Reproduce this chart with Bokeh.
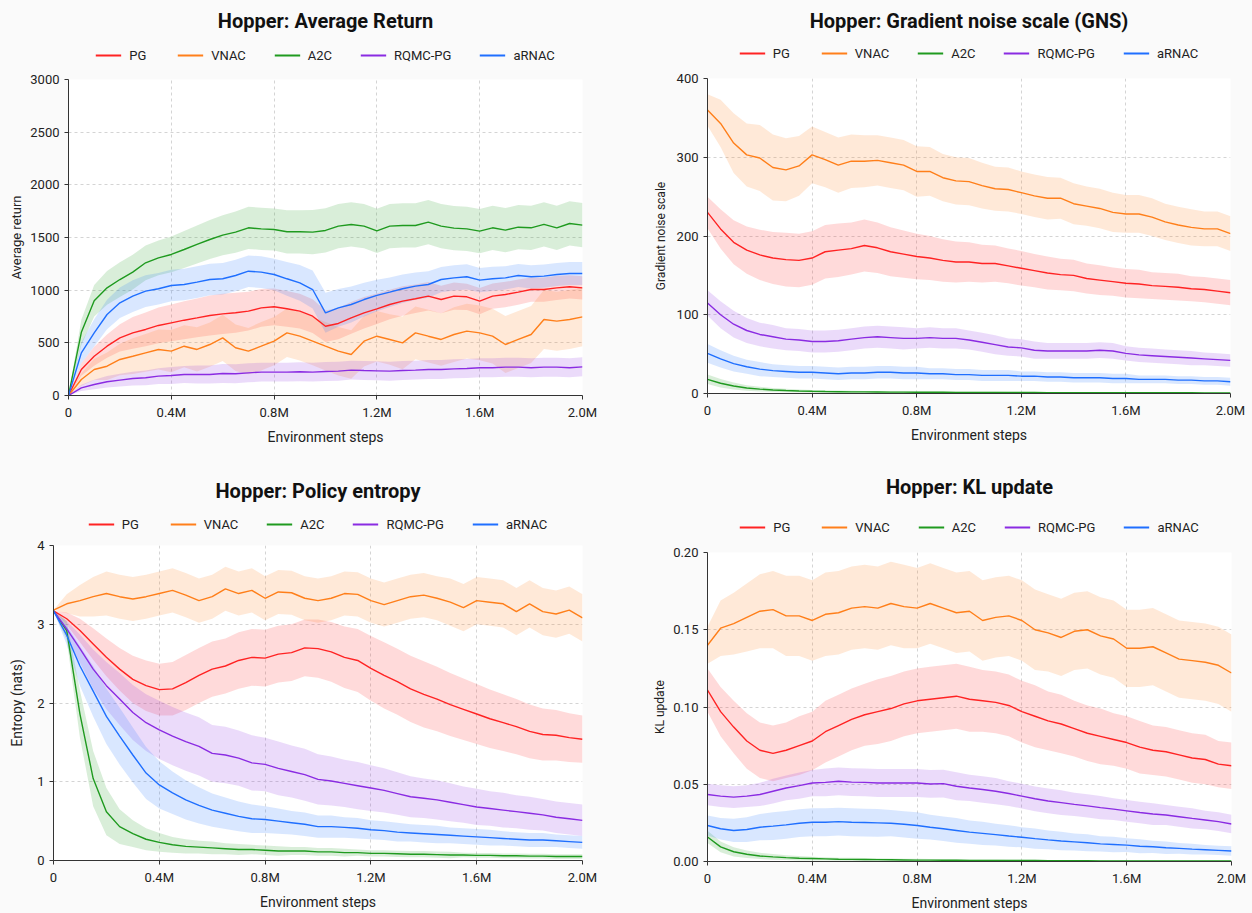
from bokeh.plotting import figure
from bokeh.layouts import column, row
from bokeh.models import (Range1d, FixedTicker, CustomJSTickFormatter, NumeralTickFormatter,
                          Legend, LegendItem, ColumnDataSource)
from bokeh.embed import file_html
from bokeh.resources import INLINE

FONT = "Roboto"

STEPS_M = [0.00, 0.05, 0.10, 0.15, 0.20, 0.25, 0.30, 0.35, 0.40, 0.45,
           0.50, 0.55, 0.60, 0.65, 0.70, 0.75, 0.80, 0.85, 0.90, 0.95,
           1.00, 1.05, 1.10, 1.15, 1.20, 1.25, 1.30, 1.35, 1.40, 1.45,
           1.50, 1.55, 1.60, 1.65, 1.70, 1.75, 1.80, 1.85, 1.90, 1.95, 2.00]
X_TICKS_M = [0, 0.4, 0.8, 1.2, 1.6, 2.0]

METHODS = ["PG", "VNAC", "A2C", "RQMC-PG", "aRNAC"]
COLORS = ["#ff2323", "#ff7f1a", "#1f9a1f", "#8a2be2", "#1f6fff"]

# ---------------- Average return ----------------
RET_PG = [0, 247, 373, 468, 547, 595, 627, 665, 690, 715, 737, 760, 775, 785, 801, 832, 842, 823, 801, 753,
          658, 684, 737, 785, 823, 864, 896, 918, 943, 911, 943, 937, 896, 943, 959, 981, 1006, 1006, 1022, 1032, 1022]
RET_PG_SD = [0, 60, 90, 110, 130, 150, 160, 170, 175, 180, 185, 190, 190, 190, 185, 180, 175, 170, 165, 160,
             150, 150, 150, 150, 145, 140, 140, 135, 135, 130, 130, 125, 125, 120, 120, 120, 115, 115, 115, 110, 110]
RET_VNAC = [0, 152, 247, 278, 342, 373, 405, 437, 421, 468, 437, 484, 547, 453, 421, 468, 516, 595, 563, 516,
            468, 421, 389, 516, 563, 532, 500, 595, 563, 532, 579, 611, 595, 563, 484, 532, 579, 722, 706, 722, 747]
RET_VNAC_SD = [0, 60, 100, 130, 150, 170, 180, 190, 200, 200, 210, 210, 220, 220, 220, 230, 230, 230, 230, 230,
               230, 230, 230, 240, 240, 240, 250, 250, 250, 250, 260, 260, 260, 260, 270, 270, 270, 280, 280, 280, 280]
RET_A2C = [0, 600, 900, 1022, 1101, 1171, 1260, 1307, 1339, 1386, 1434, 1481, 1522, 1551, 1592, 1582, 1576, 1554, 1554, 1551,
           1567, 1608, 1624, 1608, 1563, 1608, 1614, 1614, 1646, 1608, 1589, 1582, 1560, 1592, 1570, 1598, 1592, 1624, 1592, 1633, 1617]
RET_A2C_SD = [0, 120, 150, 160, 165, 165, 165, 165, 170, 175, 180, 185, 190, 195, 200, 200, 200, 205, 205, 210,
              210, 210, 210, 210, 210, 210, 210, 210, 210, 210, 210, 210, 210, 210, 210, 210, 210, 210, 210, 210, 210]
RET_RQMC = [0, 73, 104, 130, 146, 161, 168, 184, 190, 199, 199, 199, 209, 206, 215, 222, 222, 222, 225, 222,
            228, 231, 241, 237, 234, 231, 237, 241, 247, 247, 253, 256, 263, 263, 269, 269, 263, 269, 269, 263, 272]
RET_RQMC_SD = [0, 30, 45, 55, 60, 65, 70, 75, 80, 80, 85, 85, 90, 90, 90, 90, 90, 90, 90, 90,
               90, 90, 90, 90, 90, 90, 90, 90, 90, 90, 90, 90, 90, 90, 90, 90, 90, 90, 90, 90, 90]
RET_ARNAC = [0, 405, 595, 769, 880, 943, 991, 1013, 1044, 1054, 1076, 1101, 1108, 1139, 1180, 1171, 1149, 1108, 1070, 1006,
             785, 832, 864, 911, 950, 981, 1013, 1038, 1054, 1101, 1117, 1127, 1095, 1108, 1117, 1139, 1127, 1133, 1149, 1158, 1158]
RET_ARNAC_SD = [0, 100, 130, 140, 145, 150, 150, 150, 150, 150, 150, 150, 150, 150, 150, 150, 150, 160, 170, 180,
                190, 180, 170, 160, 150, 140, 135, 130, 125, 120, 120, 120, 115, 115, 110, 110, 110, 110, 110, 110, 110]

# ---------------- Gradient noise scale ----------------
GNS_PG = [230, 209, 192, 182, 176, 172, 170, 169, 172, 180, 182, 184, 188, 185, 180, 177, 174, 172, 169, 167,
          167, 165, 165, 162, 159, 156, 153, 151, 150, 146, 144, 142, 140, 139, 137, 136, 135, 133, 132, 130, 128]
GNS_PG_SD = [20, 25, 28, 30, 32, 33, 34, 34, 34, 34, 34, 33, 33, 32, 31, 30, 29, 28, 27, 26,
             25, 24, 23, 22, 22, 21, 21, 20, 20, 19, 19, 18, 18, 18, 17, 17, 17, 16, 16, 16, 16]
GNS_VNAC = [360, 343, 318, 303, 299, 287, 284, 289, 303, 297, 290, 295, 295, 296, 293, 290, 282, 282, 274, 270,
            269, 264, 260, 259, 255, 251, 248, 248, 241, 238, 235, 230, 228, 228, 224, 218, 214, 211, 209, 209, 203]
GNS_VNAC_SD = [20, 30, 38, 40, 42, 42, 40, 38, 36, 35, 35, 34, 33, 32, 32, 32, 32, 31, 30, 30,
               30, 29, 28, 28, 27, 27, 27, 26, 26, 25, 25, 25, 24, 24, 24, 23, 23, 23, 22, 22, 22]
GNS_A2C = [18, 13, 9.5, 7, 5.5, 4.5, 3.8, 3.2, 2.8, 2.5, 2.3, 2.1, 2.0, 1.9, 1.8, 1.7, 1.6, 1.5, 1.5, 1.4,
           1.4, 1.3, 1.3, 1.2, 1.2, 1.2, 1.1, 1.1, 1.1, 1.0, 1.0, 1.0, 1.0, 0.9, 0.9, 0.9, 0.9, 0.9, 0.8, 0.8, 0.8]
GNS_A2C_SD = [6, 5.5, 4.5, 3.5, 3, 2.5, 2.2, 2, 1.8, 1.6, 1.5, 1.4, 1.3, 1.2, 1.1, 1.1, 1, 1, 1, 0.9,
              0.9, 0.9, 0.8, 0.8, 0.8, 0.8, 0.7, 0.7, 0.7, 0.7, 0.7, 0.6, 0.6, 0.6, 0.6, 0.6, 0.6, 0.5, 0.5, 0.5, 0.5]
GNS_RQMC = [115, 100, 88, 80, 75, 72, 69, 68, 66, 66, 67, 69, 71, 72, 71, 70, 70, 71, 70, 70,
            68, 65, 62, 59, 58, 55, 54, 54, 54, 54, 55, 54, 51, 49, 48, 47, 46, 45, 44, 43, 42]
GNS_RQMC_SD = [16, 17, 17, 16, 15, 15, 14, 14, 14, 14, 14, 14, 14, 14, 14, 14, 13, 13, 13, 13,
               12, 12, 12, 11, 11, 11, 10, 10, 10, 10, 10, 10, 9, 9, 9, 9, 9, 9, 8, 8, 8]
GNS_ARNAC = [51, 44, 38, 34, 31, 29, 28, 27, 27, 26, 25, 26, 26, 27, 27, 26, 26, 25, 25, 24,
             24, 23, 23, 23, 22, 22, 21, 21, 20, 20, 20, 19, 19, 18, 18, 18, 17, 17, 16, 16, 15]
GNS_ARNAC_SD = [12, 11, 10, 9, 9, 8, 8, 8, 8, 8, 8, 8, 8, 8, 8, 8, 8, 7, 7, 7,
                7, 7, 7, 7, 6, 6, 6, 6, 6, 6, 6, 6, 6, 5, 5, 5, 5, 5, 5, 5, 5]

# ---------------- Policy entropy ----------------
ENT_PG = [3.17, 3.07, 2.92, 2.75, 2.58, 2.43, 2.30, 2.22, 2.17, 2.18, 2.26, 2.35, 2.43, 2.47, 2.54, 2.58, 2.57, 2.62, 2.64, 2.70,
          2.69, 2.65, 2.58, 2.54, 2.44, 2.35, 2.27, 2.18, 2.11, 2.05, 1.98, 1.92, 1.86, 1.80, 1.75, 1.70, 1.64, 1.60, 1.59, 1.56, 1.54]
ENT_PG_SD = [0, 0.08, 0.15, 0.2, 0.24, 0.27, 0.3, 0.32, 0.33, 0.34, 0.35, 0.35, 0.35, 0.35, 0.36, 0.36, 0.36, 0.36, 0.36, 0.36,
             0.37, 0.38, 0.39, 0.40, 0.41, 0.42, 0.42, 0.42, 0.42, 0.41, 0.40, 0.39, 0.38, 0.37, 0.36, 0.35, 0.34, 0.33, 0.32, 0.31, 0.30]
ENT_VNAC = [3.18, 3.26, 3.30, 3.35, 3.39, 3.35, 3.32, 3.35, 3.39, 3.43, 3.37, 3.30, 3.35, 3.45, 3.39, 3.43, 3.33, 3.41, 3.40, 3.33,
            3.30, 3.33, 3.39, 3.38, 3.30, 3.25, 3.30, 3.35, 3.37, 3.33, 3.28, 3.21, 3.30, 3.28, 3.26, 3.16, 3.26, 3.16, 3.13, 3.18, 3.08]
ENT_VNAC_SD = [0, 0.12, 0.2, 0.25, 0.28, 0.28, 0.28, 0.28, 0.28, 0.28, 0.28, 0.28, 0.28, 0.28, 0.28, 0.28, 0.28, 0.28, 0.28, 0.28,
               0.28, 0.28, 0.28, 0.28, 0.28, 0.28, 0.28, 0.28, 0.28, 0.28, 0.30, 0.30, 0.30, 0.30, 0.30, 0.30, 0.30, 0.30, 0.30, 0.30, 0.30]
ENT_A2C = [3.17, 2.92, 1.86, 1.04, 0.62, 0.43, 0.34, 0.27, 0.23, 0.20, 0.18, 0.17, 0.16, 0.15, 0.14, 0.14, 0.13, 0.12, 0.12, 0.12,
           0.11, 0.11, 0.10, 0.10, 0.09, 0.09, 0.085, 0.08, 0.08, 0.075, 0.07, 0.07, 0.065, 0.065, 0.06, 0.06, 0.055, 0.055, 0.05, 0.05, 0.05]
ENT_A2C_SD = [0, 0.12, 0.3, 0.35, 0.3, 0.22, 0.17, 0.14, 0.12, 0.1, 0.09, 0.08, 0.08, 0.07, 0.07, 0.06, 0.06, 0.06, 0.05, 0.05,
              0.05, 0.05, 0.05, 0.04, 0.04, 0.04, 0.04, 0.04, 0.04, 0.04, 0.04, 0.03, 0.03, 0.03, 0.03, 0.03, 0.03, 0.03, 0.03, 0.03, 0.03]
ENT_RQMC = [3.17, 2.94, 2.69, 2.43, 2.22, 2.05, 1.88, 1.75, 1.66, 1.58, 1.51, 1.45, 1.36, 1.34, 1.30, 1.24, 1.22, 1.17, 1.13, 1.09,
            1.03, 1.01, 0.98, 0.95, 0.92, 0.89, 0.85, 0.81, 0.79, 0.77, 0.74, 0.71, 0.68, 0.66, 0.64, 0.62, 0.60, 0.58, 0.55, 0.53, 0.51]
ENT_RQMC_SD = [0, 0.1, 0.18, 0.25, 0.3, 0.33, 0.35, 0.36, 0.37, 0.37, 0.37, 0.37, 0.36, 0.36, 0.35, 0.35, 0.34, 0.34, 0.33, 0.33,
               0.32, 0.31, 0.30, 0.30, 0.29, 0.28, 0.27, 0.26, 0.25, 0.25, 0.24, 0.23, 0.23, 0.22, 0.22, 0.21, 0.21, 0.2, 0.2, 0.2, 0.2]
ENT_ARNAC = [3.17, 2.86, 2.47, 2.15, 1.83, 1.58, 1.34, 1.11, 0.96, 0.86, 0.77, 0.70, 0.64, 0.60, 0.56, 0.53, 0.52, 0.50, 0.48, 0.46,
             0.43, 0.43, 0.42, 0.41, 0.39, 0.38, 0.36, 0.35, 0.34, 0.33, 0.32, 0.31, 0.30, 0.29, 0.28, 0.27, 0.26, 0.26, 0.25, 0.24, 0.23]
ENT_ARNAC_SD = [0, 0.12, 0.25, 0.32, 0.35, 0.36, 0.35, 0.33, 0.3, 0.27, 0.25, 0.23, 0.21, 0.2, 0.19, 0.18, 0.17, 0.16, 0.15, 0.15,
                0.14, 0.14, 0.13, 0.13, 0.12, 0.12, 0.12, 0.11, 0.11, 0.11, 0.1, 0.1, 0.1, 0.1, 0.09, 0.09, 0.09, 0.09, 0.08, 0.08, 0.08]

# ---------------- KL update ----------------
KL_PG = [0.111, 0.097, 0.087, 0.078, 0.072, 0.070, 0.072, 0.075, 0.078, 0.084, 0.088, 0.092, 0.095, 0.097, 0.099, 0.102, 0.104, 0.105, 0.106, 0.107,
         0.105, 0.104, 0.103, 0.101, 0.097, 0.094, 0.091, 0.089, 0.086, 0.083, 0.081, 0.079, 0.077, 0.074, 0.072, 0.071, 0.069, 0.067, 0.066, 0.063, 0.062]
KL_PG_SD = [0.014, 0.016, 0.017, 0.018, 0.018, 0.018, 0.018, 0.019, 0.019, 0.02, 0.02, 0.02, 0.02, 0.021, 0.021, 0.021, 0.021, 0.021, 0.021, 0.021,
            0.021, 0.02, 0.02, 0.02, 0.02, 0.02, 0.019, 0.019, 0.018, 0.018, 0.018, 0.017, 0.017, 0.017, 0.016, 0.016, 0.016, 0.016, 0.016, 0.015, 0.015]
KL_VNAC = [0.140, 0.151, 0.154, 0.158, 0.162, 0.163, 0.159, 0.159, 0.156, 0.160, 0.161, 0.164, 0.165, 0.164, 0.167, 0.165, 0.164, 0.167, 0.164, 0.161,
           0.162, 0.156, 0.158, 0.159, 0.156, 0.150, 0.148, 0.145, 0.149, 0.150, 0.146, 0.144, 0.138, 0.138, 0.139, 0.135, 0.131, 0.130, 0.129, 0.127, 0.122]
KL_VNAC_SD = [0.012, 0.018, 0.02, 0.022, 0.024, 0.025, 0.026, 0.026, 0.026, 0.027, 0.027, 0.027, 0.027, 0.027, 0.027, 0.027, 0.026, 0.026, 0.026, 0.026,
              0.026, 0.026, 0.026, 0.026, 0.026, 0.026, 0.025, 0.025, 0.025, 0.025, 0.025, 0.025, 0.025, 0.025, 0.025, 0.025, 0.025, 0.025, 0.025, 0.025, 0.025]
KL_A2C = [0.0159, 0.0095, 0.0063, 0.0047, 0.0036, 0.0030, 0.0025, 0.0021, 0.0019, 0.0017, 0.0015, 0.0014, 0.0013, 0.0012, 0.0011, 0.0010, 0.0009, 0.0009, 0.0008, 0.0008,
          0.0007, 0.0007, 0.0007, 0.0006, 0.0006, 0.0006, 0.0005, 0.0005, 0.0005, 0.0005, 0.0004, 0.0004, 0.0004, 0.0004, 0.0004, 0.0003, 0.0003, 0.0003, 0.0003, 0.0003, 0.0003]
KL_A2C_SD = [0.004, 0.0035, 0.003, 0.0025, 0.002, 0.0018, 0.0016, 0.0014, 0.0012, 0.0011, 0.001, 0.001, 0.0009, 0.0009, 0.0008, 0.0008, 0.0008, 0.0007, 0.0007, 0.0007,
             0.0006, 0.0006, 0.0006, 0.0006, 0.0005, 0.0005, 0.0005, 0.0005, 0.0005, 0.0005, 0.0005, 0.0004, 0.0004, 0.0004, 0.0004, 0.0004, 0.0004, 0.0004, 0.0004, 0.0004, 0.0004]
KL_RQMC = [0.0434, 0.0423, 0.0417, 0.0423, 0.0434, 0.0455, 0.0476, 0.0491, 0.0508, 0.0512, 0.0519, 0.0514, 0.0512, 0.0508, 0.0508, 0.0508, 0.0508, 0.0502, 0.0504, 0.0487,
           0.0476, 0.0466, 0.0455, 0.0440, 0.0423, 0.0406, 0.0392, 0.0381, 0.0370, 0.0360, 0.0349, 0.0339, 0.0328, 0.0317, 0.0307, 0.0301, 0.0290, 0.0279, 0.0269, 0.0258, 0.0243]
KL_RQMC_SD = [0.007, 0.007, 0.007, 0.007, 0.0075, 0.008, 0.008, 0.0085, 0.0085, 0.009, 0.009, 0.009, 0.009, 0.009, 0.009, 0.009, 0.009, 0.009, 0.009, 0.009,
              0.0085, 0.0085, 0.0085, 0.008, 0.008, 0.008, 0.008, 0.008, 0.0075, 0.0075, 0.0075, 0.007, 0.007, 0.007, 0.007, 0.0065, 0.0065, 0.0065, 0.006, 0.006, 0.006]
KL_ARNAC = [0.0233, 0.0212, 0.0201, 0.0207, 0.0222, 0.0229, 0.0237, 0.0248, 0.0254, 0.0254, 0.0258, 0.0254, 0.0252, 0.0250, 0.0248, 0.0241, 0.0233, 0.0222, 0.0212, 0.0201,
            0.0190, 0.0182, 0.0174, 0.0165, 0.0157, 0.0148, 0.0140, 0.0133, 0.0127, 0.0121, 0.0114, 0.0110, 0.0106, 0.0099, 0.0095, 0.0089, 0.0085, 0.0080, 0.0076, 0.0072, 0.0068]
KL_ARNAC_SD = [0.0065, 0.007, 0.0075, 0.008, 0.0085, 0.009, 0.009, 0.009, 0.009, 0.009, 0.009, 0.009, 0.009, 0.009, 0.0085, 0.0085, 0.0085, 0.008, 0.008, 0.008,
               0.0075, 0.0075, 0.007, 0.007, 0.0065, 0.0065, 0.006, 0.006, 0.0055, 0.0055, 0.005, 0.005, 0.0045, 0.0045, 0.004, 0.004, 0.0035, 0.0035, 0.003, 0.003, 0.003]

X = [s * 1e6 for s in STEPS_M]
X_TICKS = [t * 1e6 for t in X_TICKS_M]
BG = "#fafafa"


def make_header(title, means, w, h, left, right, frame_top, standoff):
    """Title (above panel) plus a horizontal legend centred in this strip's frame."""
    hd = figure(width=w, height=h, output_backend="svg", toolbar_location=None,
                x_range=Range1d(-2, -1), y_range=Range1d(-2, -1),
                x_axis_location=None, y_axis_location=None,
                min_border_left=left, min_border_right=right,
                min_border_top=frame_top, min_border_bottom=0)
    hd.xgrid.visible = False
    hd.ygrid.visible = False
    hd.outline_line_color = None
    hd.border_fill_color = BG
    hd.background_fill_color = BG
    hd.title.text = title
    hd.title.align = "center"
    hd.title.text_font = FONT
    hd.title.text_font_size = "20px"
    hd.title.text_font_style = "bold"
    hd.title.text_color = "#111111"
    hd.title.standoff = standoff
    items = []
    for name, color, m in zip(METHODS, COLORS, means):
        # same series as the chart below; the strip's ranges keep the lines out of view
        r = hd.line(x=X, y=m, line_color=color, line_width=2)
        items.append(LegendItem(label=name, renderers=[r]))
    legend = Legend(items=items, orientation="horizontal", location="center",
                    border_line_color=None, background_fill_alpha=0,
                    glyph_width=26, glyph_height=12, label_standoff=8, spacing=28,
                    label_text_font=FONT, label_text_font_size="13px",
                    label_text_color="#222222", padding=2, margin=0, label_height=16)
    hd.add_layout(legend, "center")
    return hd


def make_plot(ylabel, means, sds, ymax, yticks, yfmt, geom, ylabel_size, ylabel_standoff):
    left, right, top, bottom, w, h = geom
    p = figure(width=w, height=h, output_backend="svg", toolbar_location=None,
               x_range=Range1d(0, 2e6), y_range=Range1d(0, ymax),
               min_border_left=left, min_border_right=right,
               min_border_top=top, min_border_bottom=bottom)
    p.border_fill_color = BG
    p.background_fill_color = "#ffffff"
    p.outline_line_color = None

    for ax in (p.xaxis[0], p.yaxis[0]):
        ax.axis_line_color = "#333333"
        ax.major_tick_line_color = "#333333"
        ax.major_tick_in = 0
        ax.major_tick_out = 4
        ax.minor_tick_line_color = None
        ax.major_label_text_font = FONT
        ax.major_label_text_font_size = "13px"
        ax.major_label_text_color = "#222222"
        ax.axis_label_text_font = FONT
        ax.axis_label_text_font_style = "normal"
        ax.axis_label_text_color = "#222222"

    p.xaxis.ticker = FixedTicker(ticks=X_TICKS)
    p.xaxis.formatter = CustomJSTickFormatter(
        code="return tick == 0 ? '0' : (tick / 1e6).toFixed(1) + 'M';")
    p.xaxis.axis_label = "Environment steps"
    p.xaxis.axis_label_text_font_size = "14px"
    p.xaxis.axis_label_standoff = 6

    p.yaxis.ticker = FixedTicker(ticks=yticks)
    if yfmt:
        p.yaxis.formatter = NumeralTickFormatter(format=yfmt)
    p.yaxis.axis_label = ylabel
    p.yaxis.axis_label_text_font_size = ylabel_size
    p.yaxis.axis_label_standoff = ylabel_standoff

    for g in (p.xgrid[0], p.ygrid[0]):
        g.grid_line_color = "#d4d4d4"
        g.grid_line_dash = "3 3"
        g.grid_line_width = 1

    for color, m, s in zip(COLORS, means, sds):
        lo = [max(0.0, a - b) for a, b in zip(m, s)]
        hi = [a + b for a, b in zip(m, s)]
        src = ColumnDataSource(dict(x=X, lo=lo, hi=hi))
        p.varea(x="x", y1="lo", y2="hi", source=src, fill_color=color, fill_alpha=0.17)
    for color, m in zip(COLORS, means):
        src = ColumnDataSource(dict(x=X, y=m))
        p.line(x="x", y="y", source=src, line_color=color, line_width=1.4)
    return p


RET_MEANS = [RET_PG, RET_VNAC, RET_A2C, RET_RQMC, RET_ARNAC]
GNS_MEANS = [GNS_PG, GNS_VNAC, GNS_A2C, GNS_RQMC, GNS_ARNAC]
ENT_MEANS = [ENT_PG, ENT_VNAC, ENT_A2C, ENT_RQMC, ENT_ARNAC]
KL_MEANS = [KL_PG, KL_VNAC, KL_A2C, KL_RQMC, KL_ARNAC]

h1 = make_header("Hopper: Average Return", RET_MEANS, 626, 72, 68, 44, 36, 12)
p1 = make_plot("Average return", RET_MEANS,
               [RET_PG_SD, RET_VNAC_SD, RET_A2C_SD, RET_RQMC_SD, RET_ARNAC_SD],
               3000, [0, 500, 1000, 1500, 2000, 2500, 3000], None,
               (68, 44, 7, 61, 626, 384), "13px", 3)

h2 = make_header("Hopper: Gradient noise scale (GNS)", GNS_MEANS, 626, 68, 81, 22, 36, 12)
p2 = make_plot("Gradient noise scale", GNS_MEANS,
               [GNS_PG_SD, GNS_VNAC_SD, GNS_A2C_SD, GNS_RQMC_SD, GNS_ARNAC_SD],
               400, [0, 100, 200, 300, 400], None,
               (81, 22, 10, 63, 626, 388), "12px", 6)

h3 = make_header("Hopper: Policy entropy", ENT_MEANS, 626, 80, 53, 44, 56, 20)
p3 = make_plot("Entropy (nats)", ENT_MEANS,
               [ENT_PG_SD, ENT_VNAC_SD, ENT_A2C_SD, ENT_RQMC_SD, ENT_ARNAC_SD],
               4, [0, 1, 2, 3, 4], None,
               (53, 44, 9, 53, 626, 377), "14px", 9)

h4 = make_header("Hopper: KL update", KL_MEANS, 626, 84, 81, 21, 58, 32)
p4 = make_plot("KL update", KL_MEANS,
               [KL_PG_SD, KL_VNAC_SD, KL_A2C_SD, KL_RQMC_SD, KL_ARNAC_SD],
               0.2, [0, 0.05, 0.10, 0.15, 0.20], "0.00",
               (81, 21, 12, 44, 626, 373), "12px", 3)

panels = [column(h, p, spacing=0, styles={"background-color": BG})
          for h, p in ((h1, p1), (h2, p2), (h3, p3), (h4, p4))]
layout = column(
    row(panels[0], panels[1], spacing=0),
    row(panels[2], panels[3], spacing=0),
    spacing=0)
open("out.html", "w").write(file_html(layout, INLINE))
